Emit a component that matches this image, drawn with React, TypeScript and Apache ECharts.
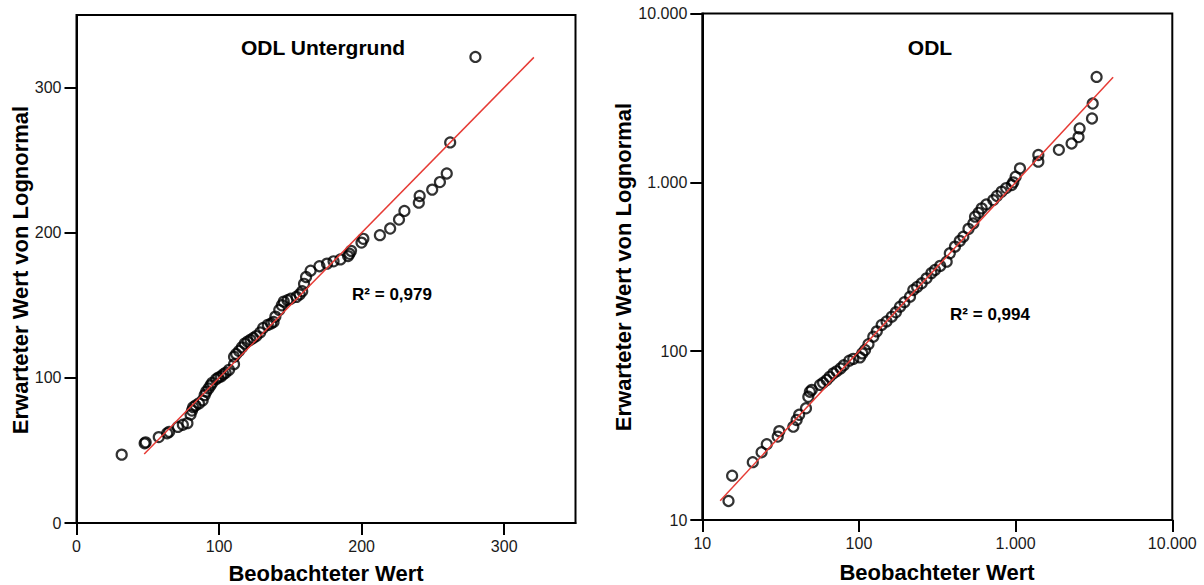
import React, { useEffect, useRef } from "react";
import * as echarts from "echarts";

// Left panel: ODL Untergrund (linear axes)
const leftObserved = [31.7, 47.8, 48.5, 57.7, 63.6, 65, 71.1, 74.6, 77.8, 80, 81, 81.8, 83.5, 85.9, 88.5, 89.9, 91, 92.6, 94, 95.2, 97.9, 99.5, 101.4, 103, 104.6, 107, 110.5, 110.5, 112, 114, 116, 118, 120, 122, 124, 126.1, 128.8, 130.9, 134.2, 136.5, 138.2, 139.5, 142.2, 144, 145.4, 148, 150.3, 154.3, 156.5, 158.3, 159.6, 161, 164.2, 170.4, 175.7, 180.3, 185.1, 190.5, 191.5, 192.6, 199.9, 201.2, 212.8, 220, 226.2, 230, 240.1, 240.7, 249.5, 254.9, 259.7, 262.1, 279.8];
const leftExpected = [47.1, 54.9, 55.6, 59.2, 61.8, 62.8, 66.2, 67.7, 68.8, 74.7, 77.5, 79.8, 81, 82.4, 84.5, 88.1, 90.5, 92.7, 94.8, 96.6, 99.1, 100.2, 101, 102.5, 103.5, 105.5, 109.4, 114.6, 116.5, 118.5, 121, 123.6, 125, 126.2, 127.5, 128.8, 131.3, 134.4, 136.5, 137.5, 138.5, 142.2, 146.8, 150, 152.5, 153.5, 154.5, 155.8, 157.5, 159.7, 164.8, 169.5, 173.8, 176.9, 178.7, 180.3, 181.6, 183.9, 185.5, 187.5, 193.2, 195.8, 198.3, 202.9, 209.1, 215, 220.7, 225.3, 229.7, 234.9, 240.8, 262.2, 321.1];
const leftFitEnds = [47.5, 320.8];
const leftTicks = [0, 100, 200, 300];
const leftTitle = "ODL Untergrund";
const leftR2 = "R² = 0,979";

// Right panel: ODL (log axes)
const rightObserved = [14.7, 15.5, 21, 23.9, 25.8, 30.3, 31, 38.1, 40, 41.5, 45.9, 47.5, 48.6, 50, 56.4, 59, 62.2, 65, 68.6, 72, 76.4, 80, 86.7, 92, 101.5, 105, 109.3, 115, 123.4, 130, 139.6, 150, 161.8, 172, 182.8, 195, 211.7, 222.2, 235, 251.4, 270, 290, 305.7, 330, 363, 380, 410, 440, 463.6, 500, 537, 550.5, 580, 607, 650, 720, 760, 814, 870, 944, 966, 1000, 1066, 1396, 1396, 1888, 2276, 2520, 2560, 3072, 3104, 3287];
const rightExpected = [12.96, 18.3, 22, 25.2, 28.1, 31.2, 33.6, 35.7, 39.1, 42, 45.9, 53.7, 57.5, 59, 63.1, 65, 67.5, 70.5, 73.9, 76, 79.1, 82.5, 87.8, 90, 91.9, 97, 101.6, 110, 121.8, 131, 142.9, 150, 160, 170, 183.4, 195, 210.2, 230.3, 240, 252.4, 270, 290, 302.6, 320, 338.8, 380, 416, 450, 476.3, 530, 571, 626, 660, 701, 740, 785, 830, 881, 925, 964, 1000, 1080, 1210, 1326, 1452, 1558, 1699, 1854, 2085, 2389, 2929, 4210];
const rightFitEnds = [13, 4190];
const rightTicks = [10, 100, 1000, 10000];
const rightTitle = "ODL";
const rightR2 = "R² = 0,994";

const xName = "Beobachteter Wert";
const yName = "Erwarteter Wert von Lognormal";

const FONT = "'Liberation Sans', Arial, sans-serif";

function fmtThousands(v: number): string {
  const r = Math.round(v);
  return String(r).replace(/\B(?=(\d{3})+(?!\d))/g, ".");
}

function axisCommon(ticks: number[], formatter?: (v: number) => string) {
  return {
    axisLine: { show: true, onZero: false, lineStyle: { color: "#000", width: 2 } },
    axisTick: { show: true, length: 12, lineStyle: { color: "#000", width: 2 }, customValues: ticks },
    axisLabel: {
      show: true,
      margin: 15,
      fontSize: 16,
      fontFamily: FONT,
      color: "#1a1a1a",
      customValues: ticks,
      formatter: formatter || ((v: number) => String(v)),
    },
    splitLine: { show: false },
  };
}

export default function App() {
  const ref = useRef<HTMLDivElement>(null);
  useEffect(() => {
    document.body.style.margin = "0";
    if (!ref.current) return;
    const chart = echarts.init(ref.current, undefined, { renderer: "svg" });
    const leftPts = leftObserved.map((x, i) => [x, leftExpected[i]]);
    const rightPts = rightObserved.map((x, i) => [x, rightExpected[i]]);
    const scatterStyle = {
      type: "scatter",
      symbol: "circle",
      symbolSize: 10,
      silent: true,
      itemStyle: { color: "rgba(0,0,0,0)", borderColor: "#000", borderWidth: 2.2 },
    };
    const lineStyle = {
      type: "line",
      showSymbol: false,
      symbol: "none",
      silent: true,
      lineStyle: { color: "#e63b35", width: 1.5 },
    };
    const titleText = (x: number, y: number, text: string, size: number) => ({
      type: "text",
      x,
      y,
      silent: true,
      style: {
        text,
        fontFamily: FONT,
        fontWeight: "bold",
        fontSize: size,
        fill: "#000",
        textAlign: "center",
        textVerticalAlign: "middle",
      },
    });
    const rotText = (x: number, y: number, text: string) => ({
      type: "text",
      x,
      y,
      rotation: Math.PI / 2,
      silent: true,
      style: {
        text,
        fontFamily: FONT,
        fontWeight: "bold",
        fontSize: 22,
        fill: "#000",
        textAlign: "center",
        textVerticalAlign: "middle",
      },
    });
    chart.setOption({
      animation: false,
      backgroundColor: "#fff",
      grid: [
        { left: 76.5, top: 15, width: 499, height: 508, show: true, borderColor: "#000", borderWidth: 2, backgroundColor: "rgba(0,0,0,0)" },
        { left: 702.3, top: 13.5, width: 470, height: 506.5, show: true, borderColor: "#000", borderWidth: 2, backgroundColor: "rgba(0,0,0,0)" },
      ],
      xAxis: [
        { type: "value", gridIndex: 0, min: 0, max: 350, ...axisCommon(leftTicks) },
        { type: "log", logBase: 10, gridIndex: 1, min: 10, max: 10000, ...axisCommon(rightTicks, fmtThousands) },
      ],
      yAxis: [
        { type: "value", gridIndex: 0, min: 0, max: 350, ...axisCommon(leftTicks) },
        { type: "log", logBase: 10, gridIndex: 1, min: 10, max: 10000, ...axisCommon(rightTicks, fmtThousands) },
      ],
      series: [
        { ...scatterStyle, xAxisIndex: 0, yAxisIndex: 0, data: leftPts },
        { ...lineStyle, xAxisIndex: 0, yAxisIndex: 0, data: leftFitEnds.map((v) => [v, v]) },
        { ...scatterStyle, xAxisIndex: 1, yAxisIndex: 1, data: rightPts },
        { ...lineStyle, xAxisIndex: 1, yAxisIndex: 1, data: rightFitEnds.map((v) => [v, v]) },
      ],
      graphic: [
        titleText(323, 47, leftTitle, 21),
        titleText(930, 47, rightTitle, 21),
        titleText(392, 294, leftR2, 17),
        titleText(990, 314, rightR2, 17),
        titleText(326, 573, xName, 22),
        titleText(937, 572, xName, 22),
        rotText(20, 270, yName),
        rotText(623, 267, yName),
      ],
    });
    return () => chart.dispose();
  }, []);
  return <div ref={ref} style={{ width: 1204, height: 585 }} />;
}
